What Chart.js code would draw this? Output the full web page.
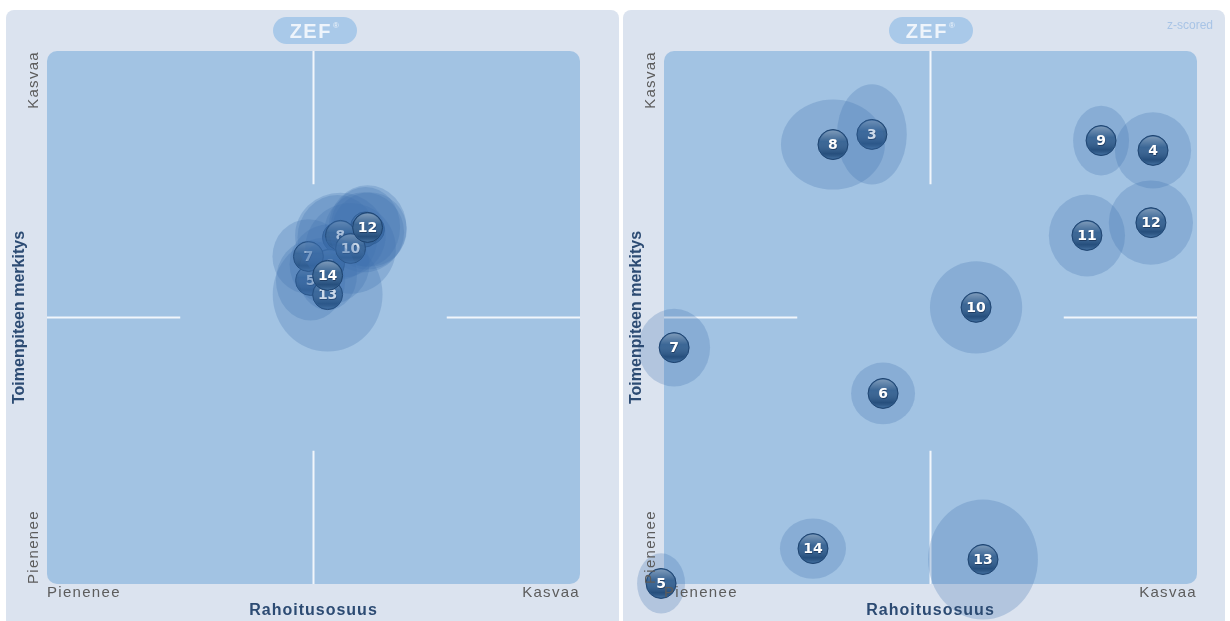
<!DOCTYPE html>
<html lang="fi">
<head>
<meta charset="utf-8">
<script src="https://cdn.jsdelivr.net/npm/chart.js@4.4.0/dist/chart.umd.min.js"></script>
<style>
  body { margin: 0; width: 1230px; height: 621px; overflow: hidden; background: #fff; position: relative; font-family: "Liberation Sans", Arial, sans-serif; }
  .paneeli { position: absolute; top: 10px; height: 620px; background: #dbe3ef; border-radius: 8px; }
  .paneeli canvas { position: absolute; left: 0; top: 0; }
  .logo { position: absolute; top: 7px; width: 84px; height: 27px; border-radius: 14px; background: #a9c9e9; color: #eef4fb; font: bold 20px "Liberation Sans", Arial, sans-serif; letter-spacing: 1.5px; text-align: center; line-height: 28px; }
  .logo sup { font-size: 8px; font-weight: normal; vertical-align: top; line-height: 18px; margin-left: 1px; }
  .zscore { position: absolute; top: 8px; right: 12px; color: #a8c4e6; font-size: 12px; }
</style>
</head>
<body>

<div class="paneeli" style="left:6px;width:613px">
  <canvas id="vasen" width="613" height="611"></canvas>
  <div class="logo" style="left:267px">ZEF<sup>®</sup></div>
</div>

<div class="paneeli" style="left:623px;width:602px">
  <canvas id="oikea" width="602" height="611"></canvas>
  <div class="logo" style="left:266px">ZEF<sup>®</sup></div>
  <div class="zscore">z-scored</div>
</div>

<script>
/* ============================================================
DATA
============================================================ */

const tunnisteet = ["3", "4", "5", "6", "7", "8", "9", "10", "11", "12", "13", "14"];

// piirtojärjestys: myöhemmät peittävät aiemmat
const piirtojarjestys = ["3", "4", "6", "9", "11", "5", "7", "8", "10", "13", "14", "12"];

// vasen kuva (raaka-arvot)
const vasenX = [0.09, 0.21, -0.011, 0.06, -0.019, 0.101, 0.195, 0.139, 0.19, 0.203, 0.053, 0.053];
const vasenY = [0.3, 0.33, 0.139, 0.2, 0.229, 0.308, 0.34, 0.259, 0.32, 0.338, 0.086, 0.158];
const vasenHajontaX = [0.15, 0.14, 0.13, 0.15, 0.135, 0.17, 0.13, 0.17, 0.15, 0.146, 0.206, 0.11];
const vasenHajontaY = [0.16, 0.14, 0.15, 0.15, 0.14, 0.16, 0.15, 0.17, 0.15, 0.158, 0.214, 0.13];

// oikea kuva (z-scored)
const oikeaX = [-0.22, 0.835, -1.011, -0.178, -0.962, -0.366, 0.64, 0.171, 0.587, 0.827, 0.197, -0.441];
const oikeaY = [0.687, 0.627, -0.998, -0.285, -0.113, 0.649, 0.664, 0.038, 0.308, 0.356, -0.908, -0.867];
const oikeaHajontaX = [0.131, 0.143, 0.09, 0.12, 0.135, 0.195, 0.105, 0.173, 0.143, 0.158, 0.206, 0.124];
const oikeaHajontaY = [0.188, 0.143, 0.113, 0.116, 0.146, 0.169, 0.131, 0.173, 0.154, 0.158, 0.225, 0.113];

const akseliXNimi = "Rahoitusosuus";
const akseliYNimi = "Toimenpiteen merkitys";
const akseliPaat = ["Pienenee", "Kasvaa"];

/* ============================================================
PLUGIN KUPLAT + TAUSTA
============================================================ */

const kuplaPlugin = {
  id: "kuplat",

  beforeDraw(chart) {
    const { ctx, chartArea: a } = chart;
    const { x, y } = chart.scales;

    ctx.save();
    ctx.fillStyle = "#a2c3e3";
    ctx.beginPath();
    ctx.roundRect(a.left, a.top, a.width, a.height, 10);
    ctx.fill();

    /* nelikentän viivat */
    const cx = x.getPixelForValue(0);
    const cy = y.getPixelForValue(0);
    ctx.strokeStyle = "rgba(255,255,255,0.85)";
    ctx.lineWidth = 2;
    ctx.beginPath();
    ctx.moveTo(x.getPixelForValue(-1), cy);
    ctx.lineTo(x.getPixelForValue(-0.5), cy);
    ctx.moveTo(x.getPixelForValue(0.5), cy);
    ctx.lineTo(x.getPixelForValue(1), cy);
    ctx.moveTo(cx, y.getPixelForValue(1));
    ctx.lineTo(cx, y.getPixelForValue(0.5));
    ctx.moveTo(cx, y.getPixelForValue(-0.5));
    ctx.lineTo(cx, y.getPixelForValue(-1));
    ctx.stroke();
    ctx.restore();
  },

  beforeDatasetsDraw(chart) {
    const { ctx } = chart;
    const { x, y } = chart.scales;
    const meta = chart.getDatasetMeta(0);
    const data = chart.data.datasets[0].data;

    piirtojarjestys.forEach((nro) => {
      const i = tunnisteet.indexOf(nro);
      const d = data[i];
      const p = meta.data[i];

      /* hajontaellipsi */
      const rx = Math.abs(x.getPixelForValue(d.x + d.sx) - p.x);
      const ry = Math.abs(y.getPixelForValue(d.y + d.sy) - p.y);
      ctx.save();
      ctx.fillStyle = "rgba(62,112,172,0.26)";
      ctx.beginPath();
      ctx.ellipse(p.x, p.y, rx, ry, 0, 0, Math.PI * 2);
      ctx.fill();
      ctx.restore();

      /* pallo */
      p.draw(ctx);

      const r = p.options.radius;
      ctx.save();
      const g = ctx.createLinearGradient(0, p.y - r, 0, p.y + r);
      g.addColorStop(0, "rgba(255,255,255,0.4)");
      g.addColorStop(0.4, "rgba(255,255,255,0.06)");
      g.addColorStop(0.8, "rgba(5,25,55,0.2)");
      g.addColorStop(1, "rgba(120,165,210,0.4)");
      ctx.fillStyle = g;
      ctx.beginPath();
      ctx.arc(p.x, p.y, r - 1, 0, Math.PI * 2);
      ctx.fill();

      ctx.font = "bold 14px 'DejaVu Sans'";
      ctx.textAlign = "center";
      ctx.textBaseline = "middle";
      ctx.fillStyle = "rgba(15,35,65,0.55)";
      ctx.fillText(nro, p.x + 0.5, p.y + 1.5);
      ctx.fillStyle = "#ffffff";
      ctx.fillText(nro, p.x, p.y + 1);
      ctx.restore();
    });

    return false;
  },

  afterDraw(chart) {
    const { ctx, chartArea: a } = chart;

    ctx.save();
    ctx.textBaseline = "middle";

    /* akselien päät */
    ctx.font = "15px 'Liberation Sans'";
    ctx.letterSpacing = "1.3px";
    ctx.fillStyle = "#5c5c5c";
    ctx.textAlign = "left";
    ctx.fillText(akseliPaat[0], a.left, a.bottom + 9);
    ctx.textAlign = "right";
    ctx.fillText(akseliPaat[1], a.right, a.bottom + 9);

    ctx.save();
    ctx.translate(a.left - 13, a.bottom);
    ctx.rotate(-Math.PI / 2);
    ctx.textAlign = "left";
    ctx.fillText(akseliPaat[0], 0, 0);
    ctx.restore();

    ctx.save();
    ctx.translate(a.left - 13, a.top);
    ctx.rotate(-Math.PI / 2);
    ctx.textAlign = "right";
    ctx.fillText(akseliPaat[1], 0, 0);
    ctx.restore();

    /* akselien otsikot */
    ctx.fillStyle = "#2c4b73";
    ctx.font = "bold 16px 'Liberation Sans'";
    ctx.letterSpacing = "1px";
    ctx.textAlign = "center";
    ctx.fillText(akseliXNimi, (a.left + a.right) / 2, a.bottom + 27);

    ctx.letterSpacing = "0px";
    ctx.save();
    ctx.translate(a.left - 27, (a.top + a.bottom) / 2);
    ctx.rotate(-Math.PI / 2);
    ctx.fillText(akseliYNimi, 0, 0);
    ctx.restore();

    ctx.restore();
  },
};

/* ============================================================
KAAVIOT
============================================================ */

function luoKaavio(id, xs, ys, sxs, sys, oikeaPad) {
  new Chart(document.getElementById(id), {
    type: "bubble",
    data: {
      labels: tunnisteet,
      datasets: [
        {
          data: tunnisteet.map((t, i) => ({ x: xs[i], y: ys[i], r: 15, sx: sxs[i], sy: sys[i] })),
          backgroundColor: "#2f5d8f",
          borderColor: "#1f4470",
          borderWidth: 1,
        },
      ],
    },
    options: {
      responsive: false,
      animation: false,
      layout: { padding: { left: 41, top: 41, right: oikeaPad, bottom: 37 } },
      scales: {
        x: { type: "linear", min: -1, max: 1, display: false },
        y: { type: "linear", min: -1, max: 1, display: false },
      },
      plugins: { legend: { display: false }, tooltip: { enabled: false } },
    },
    plugins: [kuplaPlugin],
  });
}

luoKaavio("vasen", vasenX, vasenY, vasenHajontaX, vasenHajontaY, 39);
luoKaavio("oikea", oikeaX, oikeaY, oikeaHajontaX, oikeaHajontaY, 28);
</script>
</body>
</html>
